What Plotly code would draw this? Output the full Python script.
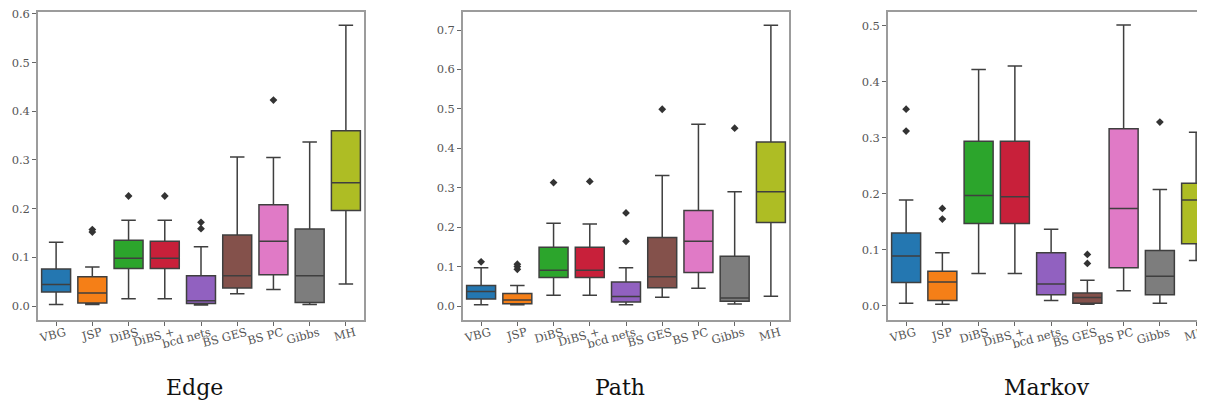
import plotly.graph_objects as go

CATEGORIES = ["VBG", "JSP", "DiBS", "DiBS +", "bcd nets", "BS GES", "BS PC", "Gibbs", "MH"]
COLORS = ["#2477b1", "#f57f17", "#2ca52c", "#c8203a", "#9161c0", "#84514b", "#e07ac6", "#7d7d7d", "#aebd24"]
PANEL_TITLES = ["Edge", "Path", "Markov"]

# Edge
EDGE_LOW = [0.003, 0.003, 0.015, 0.015, 0.002, 0.025, 0.034, 0.003, 0.045]
EDGE_Q1 = [0.029, 0.006, 0.077, 0.077, 0.005, 0.037, 0.064, 0.007, 0.196]
EDGE_MED = [0.044, 0.027, 0.098, 0.098, 0.011, 0.062, 0.133, 0.062, 0.253]
EDGE_Q3 = [0.076, 0.060, 0.135, 0.133, 0.062, 0.146, 0.208, 0.158, 0.360]
EDGE_HIGH = [0.131, 0.080, 0.176, 0.176, 0.122, 0.306, 0.305, 0.337, 0.577]
EDGE_OUTLIERS = [[], [0.157, 0.152], [0.226], [0.226], [0.172, 0.159], [], [0.423], [], []]

# Path
PATH_LOW = [0.003, 0.003, 0.027, 0.027, 0.003, 0.022, 0.045, 0.005, 0.025]
PATH_Q1 = [0.018, 0.006, 0.072, 0.072, 0.010, 0.046, 0.085, 0.012, 0.212]
PATH_MED = [0.037, 0.015, 0.091, 0.091, 0.024, 0.074, 0.164, 0.020, 0.290]
PATH_Q3 = [0.052, 0.032, 0.149, 0.149, 0.061, 0.174, 0.242, 0.126, 0.416]
PATH_HIGH = [0.097, 0.052, 0.210, 0.208, 0.097, 0.331, 0.461, 0.290, 0.712]
PATH_OUTLIERS = [[0.112], [0.106, 0.100, 0.093], [0.313], [0.316], [0.236, 0.164], [0.499], [], [0.451], []]

# Markov
MARKOV_LOW = [0.005, 0.003, 0.058, 0.058, 0.010, 0.003, 0.027, 0.005, 0.081]
MARKOV_Q1 = [0.042, 0.010, 0.147, 0.147, 0.020, 0.005, 0.068, 0.020, 0.111]
MARKOV_MED = [0.089, 0.043, 0.197, 0.195, 0.039, 0.015, 0.174, 0.053, 0.189]
MARKOV_Q3 = [0.130, 0.062, 0.294, 0.294, 0.095, 0.023, 0.316, 0.099, 0.219]
MARKOV_HIGH = [0.189, 0.095, 0.422, 0.428, 0.137, 0.046, 0.501, 0.208, 0.310]
MARKOV_OUTLIERS = [[0.351, 0.312], [0.174, 0.155], [], [], [], [0.092, 0.076], [], [0.328], []]

PANELS = [
    (EDGE_LOW, EDGE_Q1, EDGE_MED, EDGE_Q3, EDGE_HIGH, EDGE_OUTLIERS),
    (PATH_LOW, PATH_Q1, PATH_MED, PATH_Q3, PATH_HIGH, PATH_OUTLIERS),
    (MARKOV_LOW, MARKOV_Q1, MARKOV_MED, MARKOV_Q3, MARKOV_HIGH, MARKOV_OUTLIERS),
]

# The page body adds an 8px margin, so the figure is 8px smaller and all
# positions are expressed in figure pixels (window pixels - 8).
W, H = 1197, 395
X_DOMAINS = [(30 / W, 356 / W), (455 / W, 781 / W), (880 / W, 1.0)]
Y_DOMAIN = (1 - 312 / H, 1 - 4 / H)
Y_RANGES = [(-0.0287, 0.604), (-0.0355, 0.7457), (-0.025, 0.5244)]
X_RANGES = [(-0.5, 8.5), (-0.5, 8.5), (-0.5, 8.245)]

LINE_C = "#3f3f3f"
FRAME_C = "#9c9c9c"
TICK_FONT = dict(family="DejaVu Serif", size=11.5, color="#555555")

fig = go.Figure()

for p, (low, q1, med, q3, high, outs) in enumerate(PANELS):
    xa = "x" if p == 0 else f"x{p + 1}"
    ya = "y" if p == 0 else f"y{p + 1}"
    for i, cat in enumerate(CATEGORIES):
        fig.add_trace(go.Box(
            x=[cat], q1=[q1[i]], median=[med[i]], q3=[q3[i]],
            lowerfence=[low[i]], upperfence=[high[i]],
            fillcolor=COLORS[i], line=dict(color=LINE_C, width=1.5),
            width=0.8, whiskerwidth=0.5, boxpoints=False,
            showlegend=False, xaxis=xa, yaxis=ya, hoverinfo="y",
        ))
        if outs[i]:
            fig.add_trace(go.Scatter(
                x=[cat] * len(outs[i]), y=outs[i], mode="markers",
                marker=dict(symbol="diamond", size=6, color="#333333"),
                showlegend=False, xaxis=xa, yaxis=ya, cliponaxis=True,
            ))

layout = dict(
    width=W, height=H,
    margin=dict(l=0, r=0, t=0, b=0, autoexpand=False),
    paper_bgcolor="white", plot_bgcolor="white", boxmode="overlay",
)
for p in range(3):
    sfx = "" if p == 0 else str(p + 1)
    ya = "y" if p == 0 else f"y{p + 1}"
    xa = "x" if p == 0 else f"x{p + 1}"
    layout["xaxis" + sfx] = dict(
        domain=list(X_DOMAINS[p]), anchor=ya, type="category",
        categoryorder="array", categoryarray=CATEGORIES,
        range=list(X_RANGES[p]), showgrid=False, zeroline=False,
        showline=True, linecolor=FRAME_C, linewidth=1.5, mirror=True,
        ticks="outside", ticklen=4, tickcolor="#666666", tickwidth=1,
        tickangle=-15, tickfont=TICK_FONT, ticklabelshift=9,
        ticklabelstandoff=-4, automargin=False,
    )
    layout["yaxis" + sfx] = dict(
        domain=list(Y_DOMAIN), anchor=xa, range=list(Y_RANGES[p]),
        dtick=0.1, tick0=0, tickformat=".1f", showgrid=False, zeroline=False,
        showline=True, linecolor=FRAME_C, linewidth=1.5, mirror=(p < 2),
        ticks="outside", ticklen=4, tickcolor="#666666", tickwidth=1,
        tickfont=TICK_FONT, ticklabeloverflow="allow", automargin=False,
    )
fig.update_layout(**layout)

TITLE_X = [186 / W, 612 / W, 1039 / W]
for p, t in enumerate(PANEL_TITLES):
    fig.add_annotation(
        text=t, x=TITLE_X[p], y=1 - 379 / H, xref="paper", yref="paper",
        xanchor="center", yanchor="middle", showarrow=False,
        font=dict(family="DejaVu Serif", size=22, color="#111111"),
    )

fig.write_html("out.html")
